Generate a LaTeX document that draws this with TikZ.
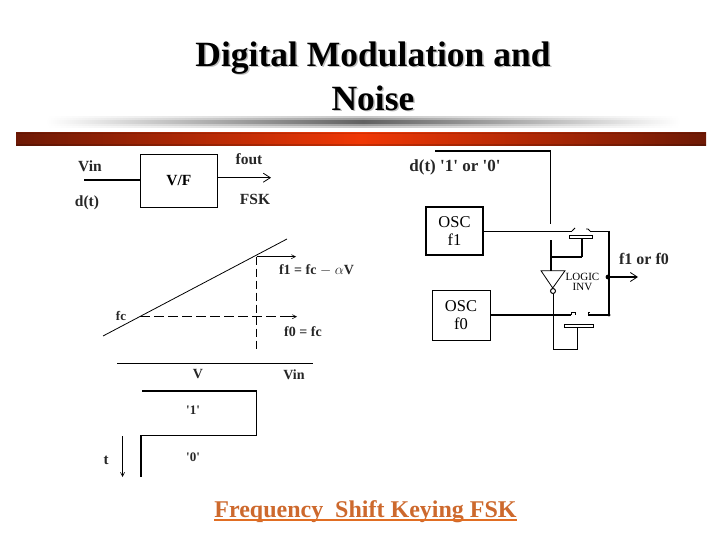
\documentclass[tikz,border=0pt]{standalone}
\usepackage{fontspec}
\setmainfont{Liberation Serif}
\usetikzlibrary{arrows.meta,shadings,fadings}
\definecolor{barout}{RGB}{110,25,5}
\definecolor{barmid}{RGB}{240,55,5}
\definecolor{footc}{RGB}{205,105,45}
\definecolor{footl}{RGB}{225,110,35}
\pgfdeclarehorizontalshading{barshade}{100bp}{color(0bp)=(barout);color(25bp)=(barout);color(50bp)=(barmid);color(75bp)=(barout);color(100bp)=(barout)}
\pgfdeclarehorizontalshading{grayA}{100bp}{color(0bp)=(white);color(25bp)=(white);color(50bp)=(black!22);color(75bp)=(white);color(100bp)=(white)}
\pgfdeclarehorizontalshading{grayB}{100bp}{color(0bp)=(white);color(25bp)=(white);color(50bp)=(black!40);color(75bp)=(white);color(100bp)=(white)}
\pgfdeclarehorizontalshading{grayC}{100bp}{color(0bp)=(white);color(25bp)=(white);color(50bp)=(black!62);color(75bp)=(white);color(100bp)=(white)}
\tikzset{
  lbl/.style={font=\bfseries\fontsize{#1}{#1}\selectfont,inner sep=0pt,text=black!85},
  lbl/.default=15.5,
  thin line/.style={line width=0.8pt},
  thick line/.style={line width=1.7pt},
  open tip/.style={-{Straight Barb[length=7pt,width=9pt,line width=0.8pt]}},
  small tip/.style={-{Straight Barb[length=4pt,width=4pt,line width=0.6pt]}},
  oscbox/.style={draw,line width=1.4pt,align=center,inner sep=0pt,font=\fontsize{16.5}{18}\selectfont},
  ttl/.style={align=center,inner sep=0pt,font=\bfseries\fontsize{35.5}{44}\selectfont},
}
\begin{document}
\begin{tikzpicture}[x=1pt,y=-1pt,line cap=butt]
\useasboundingbox (0,0) rectangle (720,540);
% title
\node[ttl,text=black!25] at (374.5,77) {Digital Modulation and\\Noise};
\node[ttl] (title) at (373,76) {Digital Modulation and\\Noise};
% bars
\fill[shading=grayA] (46,117) rectangle (680,128);
\fill[shading=grayB] (46,119) rectangle (680,126);
\fill[shading=grayC] (46,121) rectangle (680,124);
\fill[shading=barshade] (16,133) rectangle (706,146);
\fill[black,opacity=.18] (16,144) rectangle (706,146);
\fill[black,opacity=.12] (16,133) rectangle (706,134.5);
% V/F
\node[draw,thin line,minimum width=77pt,minimum height=53pt,inner sep=0pt,font=\bfseries\fontsize{15.5}{15.5}\selectfont] (vf) at (178.8,180.8) {V/F};
\coordinate (vinS) at (84,179.7);
\coordinate (foutE) at (271,177.7);
\draw[thick line] (vinS) -- (vinS -| vf.west);
\draw[thin line,open tip] (foutE -| vf.east) -- (foutE);
\node[lbl] (vin) at (90,166) {Vin};
\node[lbl] (fout) at (249,159) {fout};
\node[lbl] (dt) at (87,203) {d(t)};
\node[lbl] (fsk) at (255,199) {FSK};
% characteristic
\coordinate (cA) at (103,336);
\coordinate (cB) at (287,239);
\coordinate (c1) at (256.7,256.7);
\coordinate (c0) at (140,316.7);
\coordinate (f1E) at (296,256.7);
\coordinate (f0E) at (297,316.7);
\coordinate (dB) at (256.7,352);
\draw[thin line] (cA) -- (cB);
\draw[thin line,small tip] (c1) -- (f1E);
\draw[thin line,dash pattern=on 8pt off 4pt] (c1) -- (dB);
\draw[thin line,dash pattern=on 10pt off 4pt] (c0) -- (290,316.7);
\draw[thin line,small tip] (290,316.7) -- (f0E);
\node[lbl=14] (f1l) at (316.5,270) {f1 = fc $-$ $\alpha$V};
\node[lbl=14] (f0l) at (303,332) {f0 = fc};
\node[lbl=13] (fcl) at (121,316) {fc};
% axis
\coordinate (axL) at (117,363);
\coordinate (axR) at (313,363);
\draw[thin line] (axL) -- (axR);
\node[lbl=14] (v) at (198,374) {V};
\node[lbl=14] (vinb) at (294,375) {Vin};
% pulse
\coordinate (p1) at (142,391);
\coordinate (p2) at (256.5,391);
\coordinate (p3) at (256.5,435);
\coordinate (p4) at (141,435);
\coordinate (p5) at (141,477);
\draw[thick line] (p1) -- (p2);
\draw[thin line] (p2) -- (p3) -- (p4);
\draw[thick line] (p4) -- (p5);
\node[lbl=13] (one) at (193,410) {\textquotesingle 1\textquotesingle};
\node[lbl=13] (zero) at (193,457) {\textquotesingle 0\textquotesingle};
\node[lbl=15] (tl) at (106,460) {t};
\coordinate (tS) at (122.5,436);
\coordinate (tE) at (122.5,477);
\draw[line width=0.6pt,small tip] (tS) -- (tE);
% right circuit
\coordinate (dS) at (435,150.7);
\coordinate (dC) at (550.5,150.7);
\coordinate (dE) at (550.5,224);
\draw[thick line] (dS) -- (dC);
\draw[thin line] (dC) -- (dE);
\node[lbl=17] (dl) at (455,167) {d(t) \textquotesingle 1\textquotesingle{} or \textquotesingle 0\textquotesingle};
\node[oscbox,minimum width=57pt,minimum height=48pt] (osc1) at (454.5,231) {OSC\\f1};
\node[oscbox,line width=1pt,minimum width=58pt,minimum height=50pt] (osc0) at (461,315) {OSC\\f0};
% switches
\coordinate (s1a) at (572,231);
\coordinate (s1b) at (590,231);
\coordinate (rT) at (609,231);
\coordinate (rB) at (609,315);
\coordinate (s0a) at (571,315);
\coordinate (s0b) at (588,315);
\draw[thin line] (osc1.east |- s1a) -- (s1a);
\draw[thin line] (s1b) -- (rT);
\draw[thick line] (rT) -- (rB);
\draw[thick line] (osc0.east |- s0a) -- (s0a);
\draw[thick line] (s0b) -- (rB);
\draw[thin line] (s1a) -- ++(3,-3);
\draw[thin line] (s1b) -- ++(-2,-2) -- ++(-2,0);
\draw[thin line] (s0a) -- ++(0,-3) -- ++(4,0) -- ++(0,3);
\draw[thin line] (s0b) -- ++(0,-3) -- ++(2,0);
\fill (rB) circle (1.6);
\draw[line width=1pt,fill=white] (569,235.5) rectangle (592,238.5);
\draw[line width=1pt,fill=white] (564.5,324.5) rectangle (593,327.5);
% control
\coordinate (g1) at (551,240);
\coordinate (g2) at (551,270.7);
\coordinate (g3) at (582,257);
\coordinate (g4) at (582,238.5);
\coordinate (g5) at (551,257);
\draw[thick line] (g1) -- (g2);
\draw[thick line] (g5) -- (g3);
\draw[line width=1.2pt] (g3) -- (g4);
\draw[thin line,line join=miter] (541,270.7) -- (565,270.7) -- (552.7,288) -- cycle;
\node[draw,circle,line width=1pt,minimum size=5pt,inner sep=0pt,fill=white] (bub) at (553,291) {};
\coordinate (g6) at (553,349);
\coordinate (g7) at (577,349);
\coordinate (g8) at (577,327.5);
\draw[thin line] (bub.south) -- (g6) -- (g7) -- (g8);
\node[font=\fontsize{11}{10}\selectfont,align=center,inner sep=0pt] (logic) at (582.5,281.5) {LOGIC\\INV};
% output
\coordinate (oS) at (608,277);
\coordinate (oE) at (638,277);
\fill (oS) circle (2.4);
\draw[thick line] (oS) -- (628,277);
\draw[thick line,open tip] (628,277) -- (oE);
\node[lbl=16] (fo) at (644,259) {f1 or f0};
% footer
\node[inner sep=0pt,text=footc,font=\bfseries\fontsize{24}{24}\selectfont,anchor=base] (foot) at (365.5,517) {Frequency\hspace{0.25em} Shift Keying FSK};
\draw[footl,line width=2pt] ([yshift=-2.5pt]foot.base west) -- ([yshift=-2.5pt]foot.base east);
\end{tikzpicture}
\end{document}
